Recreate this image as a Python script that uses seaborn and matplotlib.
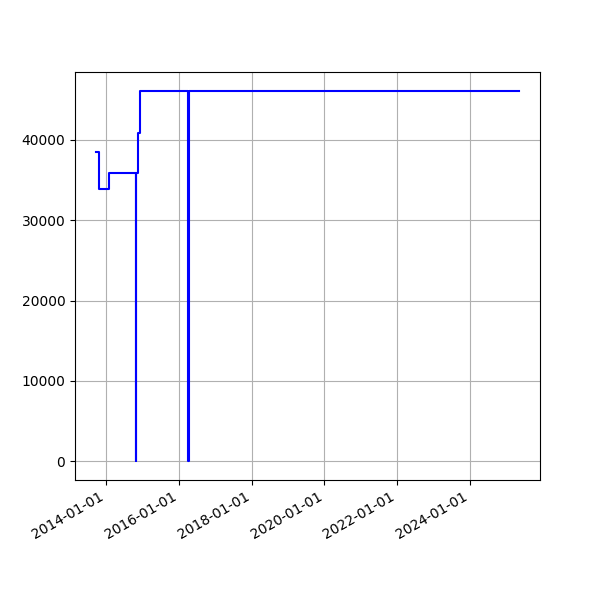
import pandas as pd
import matplotlib
matplotlib.use("Agg")
import matplotlib.pyplot as plt
import matplotlib.dates as mdates
import seaborn as sns

# step points (steps-post)
dates = ["2013-09-20", "2013-10-23", "2014-01-24", "2014-10-26", "2014-10-28",
         "2014-11-10", "2014-12-06", "2016-04-02", "2016-04-05", "2023-05-20",
         "2025-05-07"]
values = [38500, 33900, 35900, 0, 35900,
          40800, 46000, 0, 46000, 46100,
          46100]

df = pd.DataFrame({"date": pd.to_datetime(dates), "value": values})

fig, ax = plt.subplots(figsize=(6, 6), dpi=100)
sns.lineplot(data=df, x="date", y="value", drawstyle="steps-post",
             color="blue", estimator=None, ax=ax)
ax.set_xlabel("")
ax.set_ylabel("")
ax.grid(True)
ax.xaxis.set_major_formatter(mdates.DateFormatter("%Y-%m-%d"))
fig.autofmt_xdate()
fig.savefig("out.png", dpi=100)
